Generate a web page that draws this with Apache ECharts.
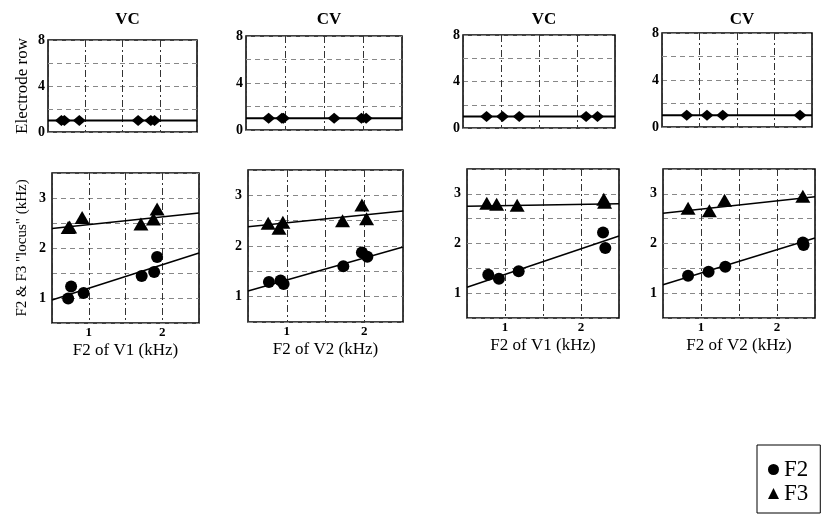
<!DOCTYPE html>
<html><head><meta charset="utf-8">
<script src="https://cdn.jsdelivr.net/npm/echarts@6/dist/echarts.min.js"></script>
<style>html,body{margin:0;padding:0;background:#fff}#c{width:823px;height:514px}</style>
</head><body><div id="c"></div>
<script>
// ---- data ----
const titles = ['VC', 'CV', 'VC', 'CV'];
const xNames = ['F2 of V1 (kHz)', 'F2 of V2 (kHz)', 'F2 of V1 (kHz)', 'F2 of V2 (kHz)'];
const topYTicks = [0, 4, 8];
const botYTicks = [1, 2, 3];
const xTicks = [1, 2];

// electrode row (top panels)
const elecX = [
  [0.68, 0.72, 0.92, 1.71, 1.88, 1.93],
  [0.79, 0.96, 0.98, 1.63, 1.98, 2.04],
  [0.81, 1.02, 1.24, 2.12, 2.27],
  [0.83, 1.10, 1.31, 2.34]
];
const elecY = [
  [1, 1, 1, 1, 1, 1],
  [1, 1, 1, 1, 1, 1],
  [1, 1, 1, 1, 1],
  [1, 1, 1, 1]
];
const elecLine = [[1, 1], [1, 1], [1, 1], [1, 1]];

// F2 locus
const f2X = [
  [0.72, 0.76, 0.93, 1.72, 1.89, 1.93],
  [0.77, 0.92, 0.96, 1.73, 1.97, 2.04],
  [0.78, 0.92, 1.18, 2.29, 2.32],
  [0.83, 1.10, 1.32, 2.34, 2.35]
];
const f2Y = [
  [0.99, 1.23, 1.10, 1.44, 1.52, 1.82],
  [1.29, 1.32, 1.25, 1.60, 1.87, 1.79],
  [1.37, 1.29, 1.44, 2.22, 1.91],
  [1.35, 1.43, 1.53, 2.02, 1.97]
];
// F3 locus
const f3X = [
  [0.72, 0.74, 0.91, 1.71, 1.88, 1.93],
  [0.76, 0.90, 0.95, 1.72, 1.97, 2.03],
  [0.76, 0.89, 1.16, 2.30, 2.31],
  [0.83, 1.11, 1.31, 2.34]
];
const f3Y = [
  [2.41, 2.42, 2.61, 2.48, 2.58, 2.78],
  [2.45, 2.35, 2.47, 2.50, 2.81, 2.54],
  [2.81, 2.79, 2.77, 2.89, 2.83],
  [2.71, 2.66, 2.87, 2.95]
];
// regression lines: y at x = 0.5 and x = 2.5
const lineX = [0.5, 2.5];
const f2Fit = [[0.96, 1.90], [1.11, 1.98], [1.12, 2.15], [1.17, 2.11]];
const f3Fit = [[2.39, 2.70], [2.38, 2.69], [2.75, 2.80], [2.61, 2.94]];

// ---- layout ----
const topBoxes = [
  {left: 48, top: 40, width: 149, height: 92},
  {left: 246, top: 36, width: 156, height: 94},
  {left: 463, top: 35, width: 152, height: 93},
  {left: 662, top: 33, width: 150, height: 94}
];
const botBoxes = [
  {left: 52, top: 173, width: 147, height: 150},
  {left: 248, top: 170, width: 155, height: 152},
  {left: 467, top: 169, width: 152, height: 149},
  {left: 663, top: 169, width: 152, height: 149}
];

const serif = '"Liberation Serif", "DejaVu Serif", serif';
const grids = [], xAxes = [], yAxes = [], series = [], titleArr = [];
const zip = (a, b) => a.map((v, i) => [v, b[i]]);

for (let p = 0; p < 4; p++) {
  const tb = topBoxes[p], bb = botBoxes[p];
  grids.push(Object.assign({show: true, borderColor: '#000', borderWidth: 1.5, backgroundColor: 'transparent'}, tb));
  grids.push(Object.assign({show: true, borderColor: '#000', borderWidth: 1.5, backgroundColor: 'transparent'}, bb));
  const gi = p * 2;
  titleArr.push({
    text: titles[p], left: tb.left + tb.width / 2, top: 6, textAlign: 'center',
    textStyle: {fontFamily: serif, fontWeight: 'bold', fontSize: 17, color: '#000'}
  });
  const vSplit = {show: true, lineStyle: {color: '#333', width: 1, type: [7, 3, 2, 3]}};
  const hSplit = {show: true, lineStyle: {color: '#888', width: 1, type: [5, 4]}};
  // top x axis
  xAxes.push({
    gridIndex: gi, type: 'value', min: 0.5, max: 2.5, interval: 0.5,
    axisLine: {show: false}, axisTick: {show: false}, axisLabel: {show: false},
    splitLine: vSplit
  });
  // bottom x axis
  xAxes.push({
    gridIndex: gi + 1, type: 'value', min: 0.5, max: 2.5, interval: 0.5,
    axisLine: {show: false}, axisTick: {show: false},
    axisLabel: {
      margin: 3, fontFamily: serif, fontWeight: 'bold', fontSize: 13, color: '#000',
      formatter: v => xTicks.includes(v) ? String(v) : ''
    },
    splitLine: vSplit,
    name: xNames[p], nameLocation: 'middle', nameGap: 19,
    nameTextStyle: {fontFamily: serif, fontSize: 17, color: '#000'}
  });
  // top y axis
  yAxes.push({
    gridIndex: gi, type: 'value', min: 0, max: 8, interval: 2,
    axisLine: {show: false}, axisTick: {show: false},
    axisLabel: {
      margin: 3, fontFamily: serif, fontWeight: 'bold', fontSize: 14, color: '#000',
      formatter: v => topYTicks.includes(v) ? String(v) : ''
    },
    splitLine: hSplit,
    name: p === 0 ? 'Electrode row' : '', nameLocation: 'middle', nameGap: 17,
    nameTextStyle: {fontFamily: serif, fontSize: 17, color: '#000'}
  });
  // bottom y axis
  yAxes.push({
    gridIndex: gi + 1, type: 'value', min: 0.5, max: 3.5, interval: 0.5,
    axisLine: {show: false}, axisTick: {show: false},
    axisLabel: {
      margin: 6, fontFamily: serif, fontWeight: 'bold', fontSize: 14, color: '#000',
      formatter: v => botYTicks.includes(v) ? String(v) : ''
    },
    splitLine: hSplit,
    name: p === 0 ? 'F2 & F3 "locus" (kHz)' : '', nameLocation: 'middle', nameGap: 22,
    nameTextStyle: {fontFamily: serif, fontSize: 15, color: '#000'}
  });

  // electrode row line + diamonds
  series.push({
    type: 'line', name: 'row', xAxisIndex: gi, yAxisIndex: gi, data: zip(lineX, elecLine[p]),
    symbol: 'none', lineStyle: {color: '#000', width: 2}, silent: true, z: 3
  });
  series.push({
    type: 'scatter', name: 'elec', xAxisIndex: gi, yAxisIndex: gi, data: zip(elecX[p], elecY[p]),
    symbol: 'diamond', symbolSize: [13, 11], itemStyle: {color: '#000', opacity: 1}, z: 4
  });
  // fits
  series.push({
    type: 'line', name: 'F2 fit', xAxisIndex: gi + 1, yAxisIndex: gi + 1, data: zip(lineX, f2Fit[p]),
    symbol: 'none', lineStyle: {color: '#000', width: 1.5}, silent: true, z: 3
  });
  series.push({
    type: 'line', name: 'F3 fit', xAxisIndex: gi + 1, yAxisIndex: gi + 1, data: zip(lineX, f3Fit[p]),
    symbol: 'none', lineStyle: {color: '#000', width: 1.5}, silent: true, z: 3
  });
  series.push({
    type: 'scatter', name: 'F2', xAxisIndex: gi + 1, yAxisIndex: gi + 1, data: zip(f2X[p], f2Y[p]),
    symbol: 'circle', symbolSize: 12, itemStyle: {color: '#000', opacity: 1}, z: 4
  });
  series.push({
    type: 'scatter', name: 'F3', xAxisIndex: gi + 1, yAxisIndex: gi + 1, data: zip(f3X[p], f3Y[p]),
    symbol: 'triangle', symbolSize: [15, 13], itemStyle: {color: '#000', opacity: 1}, z: 4
  });
}

const chart = echarts.init(document.getElementById('c'), null, {renderer: 'canvas'});
chart.setOption({
  animation: false,
  backgroundColor: '#fff',
  title: titleArr,
  grid: grids,
  xAxis: xAxes,
  yAxis: yAxes,
  legend: {
    data: [{name: 'F2', icon: 'circle'}, {name: 'F3', icon: 'triangle'}],
    orient: 'vertical', left: 757, top: 445,
    itemWidth: 11, itemHeight: 11, itemGap: 1,
    padding: [13, 12, 8, 11],
    borderColor: '#000', borderWidth: 1, borderRadius: 0,
    textStyle: {fontFamily: serif, fontSize: 23, color: '#000'},
    selectedMode: false
  },
  series: series
});
</script></body></html>
